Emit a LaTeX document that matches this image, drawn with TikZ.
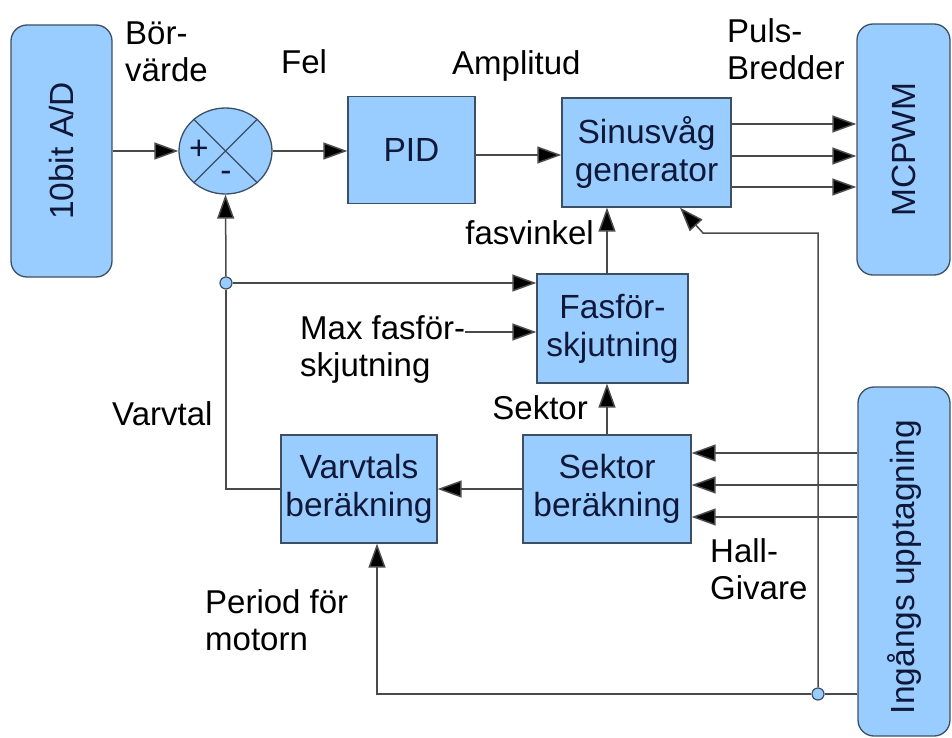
\documentclass[tikz,border=0pt]{standalone}
\usepackage{fontspec}
\setmainfont{Liberation Sans}
\usetikzlibrary{arrows.meta,shapes.geometric}
\definecolor{boxblue}{HTML}{99CCFF}
\definecolor{bdr}{HTML}{3D4F63}
\definecolor{linec}{HTML}{4A4A4A}
\definecolor{txtc}{HTML}{0F1838}
\begin{document}
\begin{tikzpicture}[x=1pt,y=-1pt,
  blk/.style={draw=bdr, fill=boxblue, line width=1.3pt, inner sep=0pt, align=center, text=txtc, font=\fontsize{33.5}{38}\selectfont},
  rblk/.style={blk, rounded corners=16pt},
  boxtxt/.style={inner sep=0pt, text=txtc, font=\fontsize{33.5}{38}\selectfont},
  lbl/.style={inner sep=0pt, align=left, text=black, font=\fontsize{33}{37}\selectfont},
  conn/.style={draw=linec, line width=1.5pt},
  arr/.style={conn, -{Triangle[length=24pt,width=17pt,fill=black]}},
  dotn/.style={circle, draw=bdr, fill=boxblue, line width=1.2pt, minimum size=12pt, inner sep=0pt}
]
\useasboundingbox (0,0) rectangle (952,738);
% blocks
\node[rblk, minimum width=101pt, minimum height=252pt] (ad) at (61.5,151) {};
\node[boxtxt, rotate=90] (adt) at (ad) {10bit A/D};
\node[ellipse, draw=bdr, fill=boxblue, line width=1.3pt, minimum width=93pt, minimum height=86pt, inner sep=0pt] (sum) at (225.5,151) {};
\draw[draw=bdr, line width=1.3pt] (sum.45) -- (sum.225) (sum.135) -- (sum.315);
\node[boxtxt] (plus) at (199,150) {+};
\node[boxtxt] (minus) at (226,176) {-};
\node[blk, minimum width=127pt, minimum height=107pt] (pid) at (411.5,150) {PID};
\node[blk, minimum width=169pt, minimum height=109pt] (sin) at (646.5,152.5) {Sinusvåg\\generator};
\node[rblk, minimum width=93pt, minimum height=251pt] (mc) at (903.5,149.5) {};
\node[boxtxt, rotate=90] (mct) at (mc) {MCPWM};
\node[blk, minimum width=151pt, minimum height=109pt] (fas) at (612.5,328.5) {Fasför-\\skjutning};
\node[blk, minimum width=156pt, minimum height=108pt] (var) at (359,489) {Varvtals\\beräkning};
\node[blk, minimum width=168pt, minimum height=108pt] (sek) at (607,489) {Sektor\\beräkning};
\node[rblk, minimum width=92pt, minimum height=349pt] (ing) at (904,561.5) {};
\node[boxtxt, rotate=90] (ingt) at (904,567) {Ingångs upptagning};
\node[dotn] (d1) at (226,283) {};
\node[dotn] (d2) at (818,694) {};
% labels
\node[lbl, anchor=west] (borv) at (125,52) {Bör-\\värde};
\node[lbl, anchor=west] (fel) at (281,62) {Fel};
\node[lbl, anchor=west] (amp) at (452,66) {Amplitud};
\node[lbl, anchor=west] (puls) at (727,49) {Puls-\\Bredder};
\node[lbl, anchor=east] (fasv) at (594,233) {fasvinkel};
\node[lbl, anchor=west] (maxf) at (300,349) {Max fasför-\\skjutning};
\node[lbl, anchor=east] (sektl) at (588,408) {Sektor};
\node[lbl, anchor=west] (varvl) at (112,414) {Varvtal};
\node[lbl, anchor=west] (hall) at (710,569) {Hall-\\Givare};
\node[lbl, anchor=west] (per) at (205,620) {Period för\\motorn};
% connectors
\draw[arr] (ad.east |- 0,151) -- (sum.west);
\draw[arr] (sum.east) -- (pid.west |- 0,151);
\draw[arr] (pid.east |- 0,155) -- (sin.west |- 0,155);
\foreach \yy in {124,156,187} \draw[arr] (sin.east |- 0,\yy) -- (mc.west |- 0,\yy);
\draw[arr] (sek.north) -- (sek.north |- fas.south);
\draw[arr] (sek.north |- fas.north) -- (sek.north |- sin.south);
\draw[conn] (var.west) -| (d1.south);
\draw[arr] (d1.north) -- (sum.south);
\draw[arr] (d1.east) -- (d1.east -| fas.west);
\draw[arr] (maxf.east |- 0,332) -- (fas.west |- 0,332);
\draw[arr] (sek.west) -- (var.east);
\foreach \yy in {453,485,517} \draw[arr] (ing.west |- 0,\yy) -- (sek.east |- 0,\yy);
\draw[conn] (ing.west |- d2) -- (d2.east);
\draw[arr] (d2.west) -| ([xshift=18pt]var.south);
\draw[arr] (d2.north) |- (703,233) -- ([xshift=33.5pt]sin.south);
\end{tikzpicture}
\end{document}
